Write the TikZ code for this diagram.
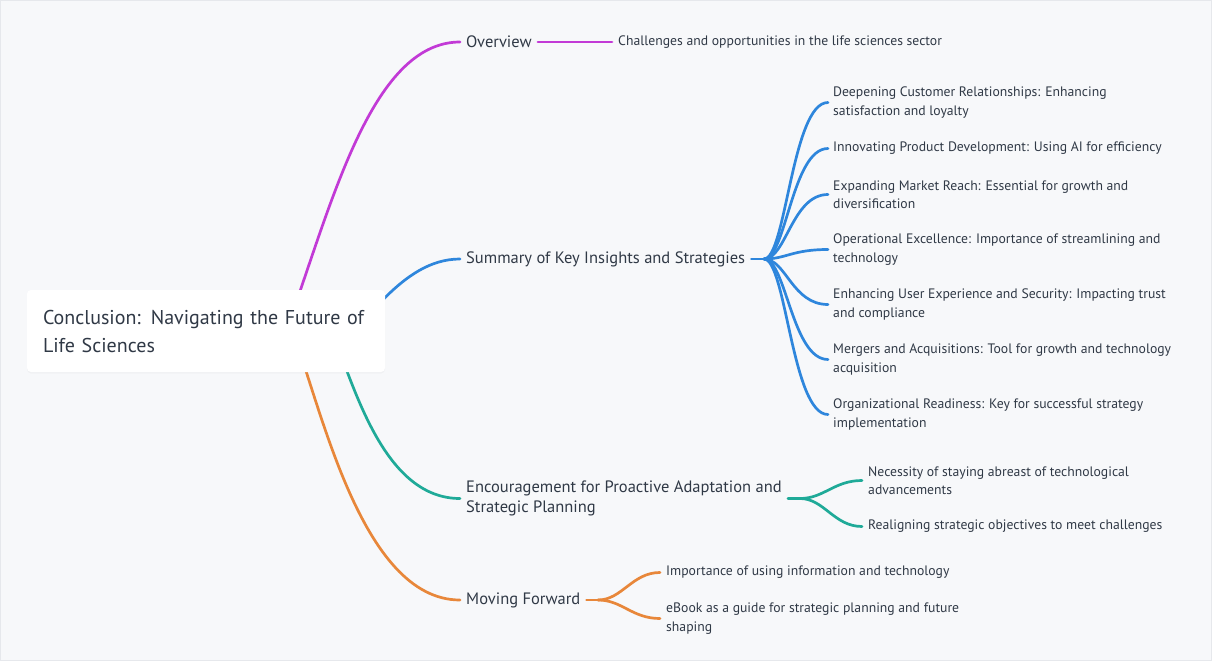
\documentclass[tikz,border=0pt]{standalone}
\usepackage{fontspec}
\setmainfont{PT Sans}
\usetikzlibrary{calc,shadows}
\pgfdeclarelayer{canvas}
\pgfdeclarelayer{links}
\pgfsetlayers{canvas,links,main}

\definecolor{bg}{HTML}{F7F8FA}
\definecolor{frame}{HTML}{E6E8EC}
\definecolor{ink}{HTML}{303946}
\definecolor{cpurple}{HTML}{C23AD6}
\definecolor{cblue}{HTML}{2E86DC}
\definecolor{cteal}{HTML}{1FAA98}
\definecolor{corange}{HTML}{E8873A}

\tikzset{
  link/.style={line width=2.7pt, line cap=round},
  rootbox/.style={rectangle, fill=white, rounded corners=4pt,
    minimum width=358pt, minimum height=82pt, text width=326pt,
    inner xsep=16pt, align=left, text=ink,
    font=\fontsize{20}{28}\selectfont,
    drop shadow={opacity=0.05, shadow xshift=0pt, shadow yshift=-1.5pt}},
  topic/.style={anchor=west, inner xsep=6pt, inner ysep=0pt, text=ink,
    align=left, font=\fontsize{16.5}{20.5}\selectfont},
  leaf/.style={anchor=west, inner xsep=5pt, inner ysep=0pt, text=ink,
    align=left, font=\fontsize{13.7}{18.3}\selectfont},
}

\begin{document}
\begin{tikzpicture}[x=1pt,y=-1pt]
  % canvas
  \begin{pgfonlayer}{canvas}
    \fill[bg] (0,0) rectangle (1212,661);
    \draw[frame, line width=0.8pt] (0.5,0.5) rectangle (1211.5,660.5);
  \end{pgfonlayer}
  \useasboundingbox (0,0) rectangle (1212,661);

  % central topic
  \node[rootbox] (root) at (206,331)
    {Conclusion: Navigating the Future of\\Life Sciences};

  % main topics
  \node[topic] (ov)  at (460,42)  {Overview};
  \node[topic] (sum) at (460,259) {Summary of Key Insights and Strategies};
  \node[topic] (enc) at (460,498.5) {Encouragement for Proactive Adaptation and\\Strategic Planning};
  \node[topic] (mf)  at (460,600) {Moving Forward};

  % details
  \node[leaf, inner xsep=6pt] (ov1) at (612,42) {Challenges and opportunities in the life sciences sector};

  \node[leaf] (s1) at (828,102.5) {Deepening Customer Relationships: Enhancing\\satisfaction and loyalty};
  \node[leaf] (s2) at (828,148.5) {Innovating Product Development: Using AI for efficiency};
  \node[leaf] (s3) at (828,194.5) {Expanding Market Reach: Essential for growth and\\diversification};
  \node[leaf] (s4) at (828,249.5) {Operational Excellence: Importance of streamlining and\\technology};
  \node[leaf] (s5) at (828,304.5) {Enhancing User Experience and Security: Impacting trust\\and compliance};
  \node[leaf] (s6) at (828,359.5) {Mergers and Acquisitions: Tool for growth and technology\\acquisition};
  \node[leaf] (s7) at (828,414.5) {Organizational Readiness: Key for successful strategy\\implementation};

  \node[leaf, inner xsep=6pt] (e1) at (862,480.5) {Necessity of staying abreast of technological\\advancements};
  \node[leaf, inner xsep=6pt] (e2) at (862,526.5) {Realigning strategic objectives to meet challenges};

  \node[leaf, inner xsep=6pt] (m1) at (660,572.5) {Importance of using information and technology};
  \node[leaf, inner xsep=6pt] (m2) at (660,618.5) {eBook as a guide for strategic planning and future\\shaping};

  % branch origins hidden behind the central topic
  \coordinate (oP) at (286,331);
  \coordinate (oB) at (330,350);
  \coordinate (oT) at (332,331);
  \coordinate (oO) at (292,331);
  % fan-out hubs
  \coordinate (hB) at (764,259);
  \coordinate (hT) at (800,498.5);
  \coordinate (hM) at (598,600);

  \begin{pgfonlayer}{links}
    \draw[link, cpurple] (oP) .. controls (330,211) and (370,42) .. (ov.west);
    \draw[link, cblue]   (oB) .. controls (365,330) and (400,259) .. (sum.west);
    \draw[link, cteal]   (oT) .. controls (355,390) and (385,498.5) .. (enc.west);
    \draw[link, corange] (oO) .. controls (320,400) and (360,600) .. (mf.west);
  \end{pgfonlayer}

  % overview detail
  \draw[link, cpurple] (ov.east) -- (ov1.west);

  % summary details
  \draw[link, cblue] (sum.east) -- (hB);
  \foreach \n in {s1,s2,s3,s4,s5,s6,s7}{
    \draw[link, cblue] (hB) .. controls (786,259) and (792,0 |- \n.west) .. (\n.west);
  }

  % encouragement details
  \draw[link, cteal] (enc.east) -- (hT);
  \foreach \n in {e1,e2}{
    \draw[link, cteal] (hT) .. controls (824,498.5) and (834,0 |- \n.west) .. (\n.west);
  }

  % moving forward details
  \draw[link, corange] (mf.east) -- (hM);
  \foreach \n in {m1,m2}{
    \draw[link, corange] (hM) .. controls (622,600) and (632,0 |- \n.west) .. (\n.west);
  }
\end{tikzpicture}
\end{document}
